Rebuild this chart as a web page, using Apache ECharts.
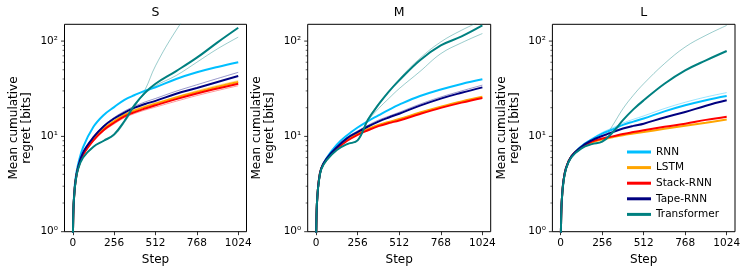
<!DOCTYPE html>
<html>
<head>
<meta charset="utf-8">
<script src="https://cdn.jsdelivr.net/npm/echarts@6/dist/echarts.min.js"></script>
<style>html,body{margin:0;padding:0;background:#fff}#c{width:748px;height:274px}</style>
</head>
<body>
<div id="c"></div>
<script>
// ---- data ----
const steps = [1, 4, 8, 16, 32, 64, 128, 192, 256, 320, 384, 448, 512, 640, 768, 896, 1024];
const panelTitles = ['S', 'M', 'L'];
const models = ['RNN', 'LSTM', 'Stack-RNN', 'Tape-RNN', 'Transformer'];
const modelColors = ['#00bfff', '#ffa500', '#ff0000', '#000080', '#008080'];
const xTickValues = [0, 256, 512, 768, 1024];
const yTickValues = [1, 10, 100];
const yTickLabels = ['10⁰', '10¹', '10²'];
const yMinorTickValues = [2, 3, 4, 5, 6, 7, 8, 9, 20, 30, 40, 50, 60, 70, 80, 90];

// S panel
const S_RNN   = [0.9, 1.8, 2.4, 3.5, 5.0, 7.7, 12.6, 16.8, 20.3, 24.2, 27.2, 30.2, 32.8, 40.0, 47.0, 53.5, 60.0];
const S_LSTM  = [0.9, 1.7, 2.3, 3.3, 4.6, 6.5, 9.3, 12.0, 14.4, 16.8, 18.7, 20.4, 22.0, 25.6, 29.3, 33.2, 37.3];
const S_Stack = [0.9, 1.7, 2.3, 3.3, 4.6, 6.4, 9.1, 11.7, 13.9, 16.2, 18.0, 19.6, 21.2, 24.6, 28.2, 31.8, 35.7];
const S_Tape  = [0.9, 1.7, 2.3, 3.3, 4.7, 6.8, 9.8, 12.8, 15.4, 17.8, 20.0, 21.9, 23.6, 28.0, 32.2, 37.2, 43.0];
const S_Trans = [0.9, 1.7, 2.3, 3.2, 4.5, 6.0, 7.8, 9.0, 10.5, 14.5, 21.5, 28.8, 35.7, 48.5, 67.0, 97.0, 138.0];
const S_LSTM_thin  = [0.9, 1.7, 2.3, 3.3, 4.6, 6.5, 9.4, 12.2, 14.7, 17.2, 19.2, 21.0, 22.6, 26.0, 30.2, 34.3, 38.5];
const S_Stack_thin = [0.9, 1.7, 2.3, 3.3, 4.6, 6.3, 8.9, 11.4, 13.5, 15.7, 17.4, 18.9, 20.3, 23.4, 26.8, 30.3, 34.0];
const S_Tape_thin  = [0.9, 1.7, 2.3, 3.3, 4.7, 6.8, 9.9, 13.0, 15.8, 18.4, 20.8, 23.0, 25.0, 29.8, 34.8, 40.5, 47.0];
const S_Trans_thinA = [0.9, 1.7, 2.3, 3.2, 4.5, 6.0, 7.8, 9.0, 10.2, 14.0, 20.5, 31.0, 55.0, 130.0, 260.0, null, null];
const S_Trans_thinB = [0.9, 1.7, 2.3, 3.2, 4.5, 6.0, 7.8, 9.0, 10.4, 14.6, 21.5, 28.0, 34.0, 43.5, 60.0, 83.0, 110.0];

// M panel
const M_RNN   = [0.9, 1.7, 2.3, 3.3, 4.6, 5.9, 8.2, 10.3, 12.4, 14.5, 16.6, 19.0, 21.5, 26.5, 31.0, 35.5, 39.7];
const M_LSTM  = [0.9, 1.7, 2.3, 3.3, 4.6, 5.7, 7.5, 9.2, 10.7, 12.0, 13.2, 14.2, 15.2, 17.8, 20.5, 23.3, 26.0];
const M_Stack = [0.9, 1.7, 2.3, 3.3, 4.6, 5.7, 7.4, 9.0, 10.4, 11.6, 12.8, 13.8, 14.7, 17.2, 19.9, 22.6, 25.3];
const M_Tape  = [0.9, 1.7, 2.3, 3.3, 4.6, 5.8, 7.7, 9.6, 11.1, 12.7, 14.3, 15.8, 17.3, 21.0, 24.9, 28.7, 32.7];
const M_Trans = [0.9, 1.7, 2.3, 3.2, 4.5, 5.6, 7.2, 8.3, 9.1, 15.0, 21.5, 29.5, 38.7, 63.0, 90.0, 112.0, 146.0];
const M_Tape_thin   = [0.9, 1.7, 2.3, 3.3, 4.6, 5.8, 7.8, 9.8, 11.4, 13.1, 14.8, 16.3, 17.9, 21.8, 25.9, 30.0, 34.5];
const M_Trans_thinA = [0.9, 1.7, 2.3, 3.2, 4.5, 5.6, 7.2, 8.3, 9.1, 15.0, 22.0, 29.5, 40.0, 66.0, 98.0, 130.0, 165.0];
const M_Trans_thinB = [0.9, 1.7, 2.3, 3.2, 4.5, 5.6, 7.2, 8.3, 9.1, 14.5, 19.5, 25.0, 31.7, 48.0, 73.8, 96.0, 120.0];

// L panel
const L_RNN   = [0.9, 1.7, 2.3, 3.3, 4.6, 6.1, 7.9, 9.3, 10.7, 11.8, 13.2, 14.3, 15.4, 18.3, 21.2, 24.0, 26.5];
const L_LSTM  = [0.9, 1.7, 2.3, 3.3, 4.6, 6.1, 7.6, 8.6, 9.3, 9.8, 10.3, 10.7, 11.1, 12.0, 12.9, 13.9, 15.0];
const L_Stack = [0.9, 1.7, 2.3, 3.3, 4.6, 6.1, 7.7, 8.8, 9.5, 10.0, 10.6, 11.1, 11.6, 12.6, 13.6, 14.9, 16.1];
const L_Tape  = [0.9, 1.7, 2.3, 3.3, 4.6, 6.1, 7.8, 9.1, 10.1, 11.1, 12.1, 12.9, 13.6, 15.8, 18.0, 21.0, 23.9];
const L_Trans = [0.9, 1.7, 2.3, 3.2, 4.5, 6.0, 7.5, 8.3, 8.8, 11.0, 14.8, 19.2, 23.9, 35.7, 49.3, 62.8, 78.7];
const L_RNN_thin   = [0.9, 1.7, 2.3, 3.3, 4.6, 6.1, 8.0, 9.5, 11.0, 12.3, 13.8, 15.1, 16.4, 19.6, 22.8, 25.9, 28.8];
const L_Trans_thin = [0.9, 1.7, 2.3, 3.2, 4.5, 6.0, 7.5, 8.3, 9.0, 13.0, 19.5, 27.0, 35.7, 58.0, 86.7, 115.0, 146.0];

// ---- build ----
const panelThick = [
  [S_RNN, S_LSTM, S_Stack, S_Tape, S_Trans],
  [M_RNN, M_LSTM, M_Stack, M_Tape, M_Trans],
  [L_RNN, L_LSTM, L_Stack, L_Tape, L_Trans]
];
// [model index, values]
const panelThin = [
  [[1, S_LSTM_thin], [2, S_Stack_thin], [3, S_Tape_thin], [4, S_Trans_thinA], [4, S_Trans_thinB]],
  [[3, M_Tape_thin], [4, M_Trans_thinA], [4, M_Trans_thinB]],
  [[0, L_RNN_thin], [4, L_Trans_thin]]
];

const FONT = 'DejaVu Sans';
const xMin = -51.2, xMax = 1075.2;
const gridBoxes = [
  {left: 64.5, width: 182},
  {left: 307.7, width: 183},
  {left: 552.4, width: 182.6}
];
const gridTop = 24.3, gridHeight = 207.4;

const grids = [], xAxes = [], yAxes = [], seriesList = [], titles = [];
function pairs(vals) { return steps.map((s, i) => [s, vals[i]]); }
const yTickMarks = yTickValues.map(v => [v, 3.5]).concat(yMinorTickValues.map(v => [v, 2]));

gridBoxes.forEach((g, p) => {
  grids.push({left: g.left, top: gridTop, width: g.width, height: gridHeight, show: true,
    borderColor: '#000', borderWidth: 1, backgroundColor: 'transparent'});
  titles.push({text: panelTitles[p], left: g.left + g.width / 2, top: 6, textAlign: 'center', padding: 0,
    textStyle: {fontFamily: FONT, fontSize: 12.5, fontWeight: 'normal', color: '#000'}});
  xAxes.push({type: 'value', gridIndex: p, min: xMin, max: xMax,
    name: 'Step', nameLocation: 'middle', nameGap: 20,
    nameTextStyle: {fontFamily: FONT, fontSize: 12, color: '#000'},
    axisLine: {show: false}, splitLine: {show: false},
    axisTick: {show: true, length: 3.5, lineStyle: {color: '#000', width: 0.8}, customValues: xTickValues},
    axisLabel: {fontFamily: FONT, fontSize: 10.5, color: '#000', margin: 6.5, customValues: xTickValues,
      formatter: v => String(Math.round(v))}
  });
  yAxes.push({type: 'log', logBase: 10, gridIndex: p, min: 1, max: 150,
    name: 'Mean cumulative\nregret [bits]', nameLocation: 'middle', nameGap: 31,
    nameTextStyle: {fontFamily: FONT, fontSize: 12, color: '#000', lineHeight: 13},
    axisLine: {show: false}, splitLine: {show: false}, axisTick: {show: false},
    axisLabel: {fontFamily: FONT, fontSize: 10.5, color: '#000', margin: 6.5, customValues: yTickValues,
      formatter: v => { const i = yTickValues.findIndex(t => Math.abs(t - v) < 1e-6 * t); return i >= 0 ? yTickLabels[i] : ''; }}
  });
  panelThin[p].forEach(([m, vals], k) => {
    seriesList.push({type: 'line', name: models[m] + ' run' + k, xAxisIndex: p, yAxisIndex: p,
      data: pairs(vals), showSymbol: false, smooth: 0.4, connectNulls: false,
      lineStyle: {color: modelColors[m], width: 1, opacity: 0.4}, itemStyle: {color: modelColors[m]},
      silent: true, z: 1});
  });
  panelThick[p].forEach((vals, m) => {
    seriesList.push({type: 'line', name: models[m], xAxisIndex: p, yAxisIndex: p,
      data: pairs(vals), showSymbol: false, smooth: 0.4,
      lineStyle: {color: modelColors[m], width: 2}, itemStyle: {color: modelColors[m]},
      silent: true, z: 2 + m});
  });
  // y ticks (major + log minor) on the left spine
  seriesList.push({type: 'custom', name: 'yTicks' + p, xAxisIndex: p, yAxisIndex: p, silent: true, clip: false,
    data: yTickMarks.map(t => [xMin, t[0], t[1]]),
    renderItem: (params, api) => {
      const pt = api.coord([api.value(0), api.value(1)]);
      const len = api.value(2);
      return {type: 'line', shape: {x1: pt[0] - len, y1: pt[1], x2: pt[0], y2: pt[1]},
        style: {stroke: '#000', lineWidth: len > 3 ? 0.8 : 0.6}};
    }});
});

const chart = echarts.init(document.getElementById('c'), null, {renderer: 'canvas'});
chart.setOption({
  animation: false,
  backgroundColor: '#fff',
  title: titles,
  grid: grids,
  xAxis: xAxes,
  yAxis: yAxes,
  legend: {data: models, orient: 'vertical', left: 627, top: 146, padding: 0,
    itemWidth: 24, itemHeight: 3, itemGap: 3.6, icon: 'rect',
    textStyle: {fontFamily: FONT, fontSize: 10.5, color: '#000', lineHeight: 12}},
  series: seriesList
});
</script>
</body>
</html>
